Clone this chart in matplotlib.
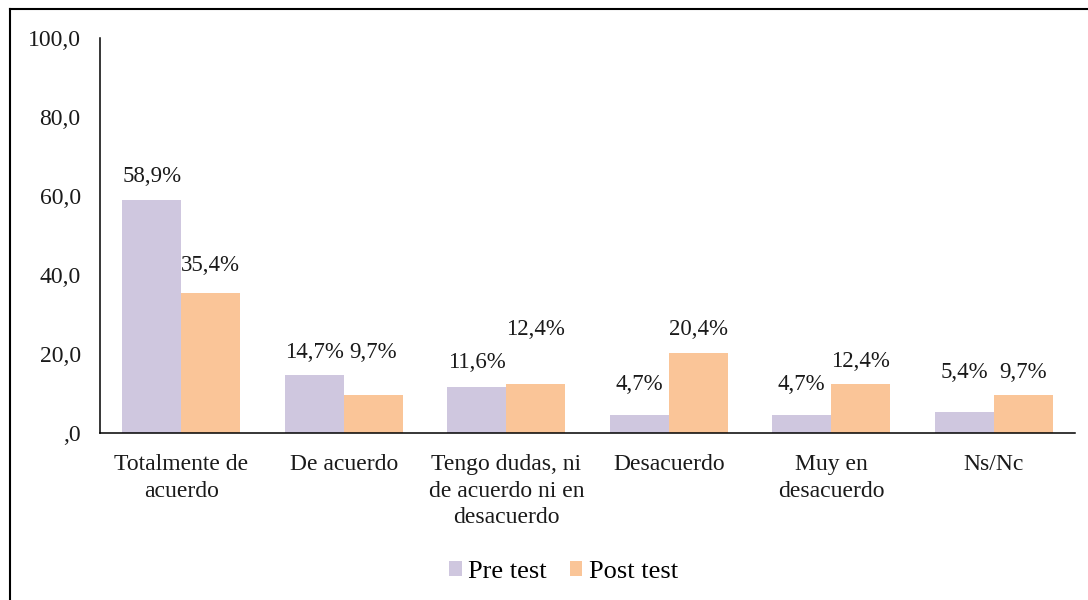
"""Pre test vs post test answer distribution, grouped bars."""

import matplotlib

matplotlib.use("Agg")

import matplotlib.pyplot as plt
import numpy as np
from matplotlib.lines import Line2D


CATEGORIES = [
    "Totalmente de\nacuerdo",
    "De acuerdo",
    "Tengo dudas, ni\nde acuerdo ni en\ndesacuerdo",
    "Desacuerdo",
    "Muy en\ndesacuerdo",
    "Ns/Nc",
]
PRE_TEST = [58.9, 14.7, 11.6, 4.7, 4.7, 5.4]
POST_TEST = [35.4, 9.7, 12.4, 20.4, 12.4, 9.7]
SERIES_NAMES = ["Pre test", "Post test"]
Y_TICKS = [0, 20, 40, 60, 80, 100]

# where the data labels sit (data units), as placed in the original
PRE_LABEL_Y = [64.8, 20.5, 18.0, 12.4, 12.4, 15.4]
POST_LABEL_Y = [42.5, 20.5, 26.3, 26.3, 18.2, 15.4]

PRE_COLOR = "#CFC7DF"
POST_COLOR = "#FAC598"
TEXT_COLOR = "#1a1a1a"


def fmt(value: float) -> str:
    text = f"{value:.1f}".replace(".", ",")
    return text[1:] if text.startswith("0,") else text


def main() -> None:
    plt.rcParams["font.family"] = ["Liberation Serif", "DejaVu Serif"]

    fig = plt.figure(figsize=(10.88, 6.0), dpi=100)
    ax = fig.add_axes([0.092, 0.278, 0.896, 0.659])

    x = np.arange(len(CATEGORIES))
    width = 0.363
    ax.bar(x - width / 2, PRE_TEST, width, color=PRE_COLOR, label=SERIES_NAMES[0])
    ax.bar(x + width / 2, POST_TEST, width, color=POST_COLOR, label=SERIES_NAMES[1])

    for i in range(len(CATEGORIES)):
        ax.text(x[i] - width / 2, PRE_LABEL_Y[i], fmt(PRE_TEST[i]) + "%",
                ha="center", va="center", fontsize=16.5, color=TEXT_COLOR)
        ax.text(x[i] + width / 2, POST_LABEL_Y[i], fmt(POST_TEST[i]) + "%",
                ha="center", va="center", fontsize=16.5, color=TEXT_COLOR)

    ax.set_xlim(-0.5, len(CATEGORIES) - 0.5)
    ax.set_ylim(0, 100)
    ax.set_yticks(Y_TICKS)
    ax.set_yticklabels([fmt(v) for v in Y_TICKS])
    ax.set_xticks(x)
    ax.set_xticklabels(CATEGORIES, linespacing=1.35)
    ax.tick_params(axis="y", length=0, pad=14, labelsize=17, labelcolor=TEXT_COLOR)
    ax.tick_params(axis="x", length=0, pad=15, labelsize=17, labelcolor=TEXT_COLOR)

    ax.spines["top"].set_visible(False)
    ax.spines["right"].set_visible(False)
    for side in ("left", "bottom"):
        ax.spines[side].set_linewidth(1.1)
        ax.spines[side].set_color("#000000")

    fig.legend(
        loc="center",
        bbox_to_anchor=(0.518, 0.047),
        ncol=2,
        frameon=False,
        fontsize=19,
        handlelength=0.48,
        handleheight=0.48,
        handletextpad=0.25,
        columnspacing=0.85,
    )

    # outer chart frame (only top and left edges are visible in the crop)
    fig.add_artist(Line2D([0.0092, 0.0092], [0.985, 0.0], transform=fig.transFigure,
                          color="#000000", linewidth=1.5))
    fig.add_artist(Line2D([0.0092, 1.0], [0.985, 0.985], transform=fig.transFigure,
                          color="#000000", linewidth=1.5))

    fig.savefig("out.png", dpi=100)
    plt.close(fig)


if __name__ == "__main__":
    main()
